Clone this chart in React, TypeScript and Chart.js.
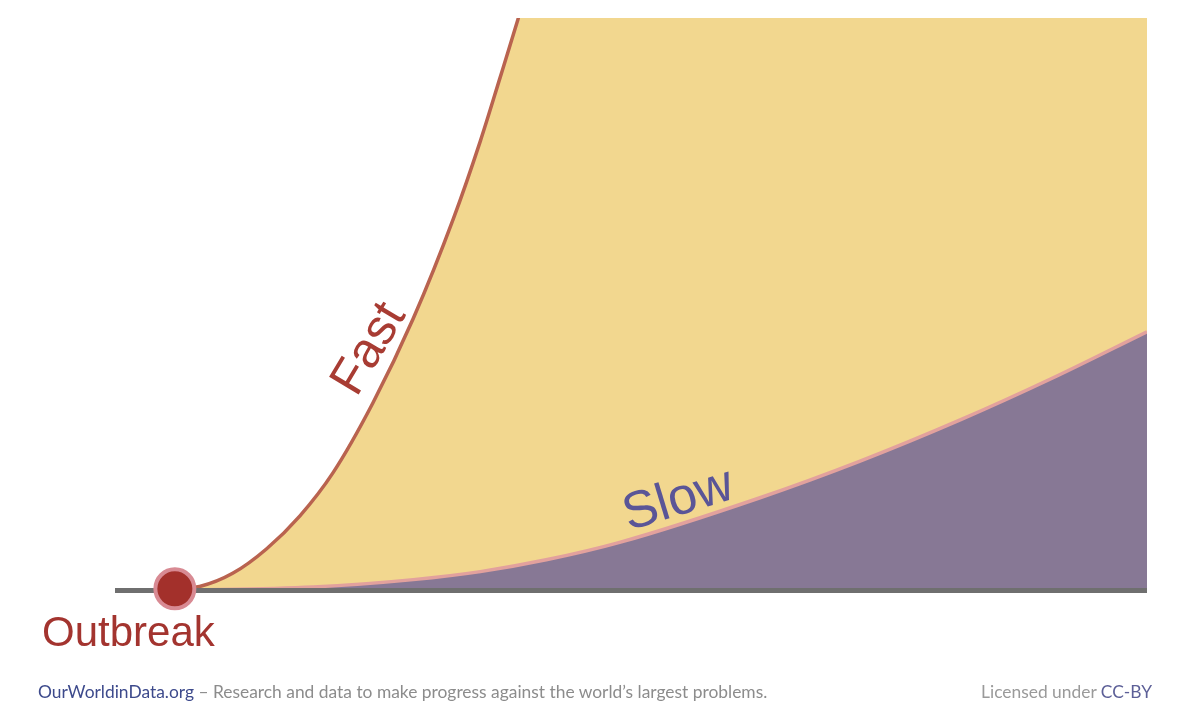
import React, { useEffect, useRef } from "react";
import { Chart, registerables } from "chart.js";

Chart.register(...registerables);

// Time since outbreak (arbitrary units) and number of cases (arbitrary units)
const fastT = [5.8, 8.2, 11.4, 14.7, 17.9, 21.1, 25.0, 28.9, 32.8, 35.4, 37.3, 39.05, 40.3, 100];
const fastV = [0.3, 0.7, 3.0, 7.3, 13.0, 20.5, 32.8, 47.5, 65.0, 78.5, 89.5, 99.8, 107.5, 107.5];
const slowT = [5.8, 19.2, 28.9, 35.4, 41.9, 48.9, 62.5, 72.2, 81.9, 90.6, 100];
const slowV = [0, 0.6, 1.9, 3.3, 5.4, 8.4, 16.2, 22.6, 29.8, 36.9, 45.2];
const baseT = [0, 100];
const baseV = [0, 0];
const outbreakT = [5.8];
const outbreakV = [0.3];

const labelFast = "Fast";
const labelSlow = "Slow";
const labelOutbreak = "Outbreak";

const zip = (xs: number[], ys: number[]) => xs.map((x, i) => ({ x, y: ys[i] }));

const textPlugin = {
  id: "curveLabels",
  afterDraw(chart: any) {
    const ctx = chart.ctx as CanvasRenderingContext2D;
    ctx.save();
    ctx.textAlign = "center";
    ctx.textBaseline = "alphabetic";
    // Fast
    ctx.save();
    ctx.translate(366, 347);
    ctx.rotate((-59 * Math.PI) / 180);
    ctx.font = "50px 'Liberation Sans', Arial, sans-serif";
    ctx.fillStyle = "#a83c33";
    ctx.fillText(labelFast, 0, 18);
    ctx.restore();
    // Slow
    ctx.save();
    ctx.translate(677, 496);
    ctx.rotate((-17 * Math.PI) / 180);
    ctx.font = "52px 'Liberation Sans', Arial, sans-serif";
    ctx.fillStyle = "#5a5597";
    ctx.fillText(labelSlow, 0, 19);
    ctx.restore();
    // Outbreak
    ctx.font = "42px 'Liberation Sans', Arial, sans-serif";
    ctx.fillStyle = "#a3342f";
    ctx.textAlign = "left";
    ctx.fillText(labelOutbreak, 42, 646);
    ctx.restore();
  },
};

export default function App() {
  const ref = useRef<HTMLCanvasElement>(null);

  useEffect(() => {
    document.body.style.margin = "0";
    if (!ref.current) return;
    const chart = new Chart(ref.current, {
      type: "line",
      data: {
        datasets: [
          {
            label: "Fast",
            data: zip(fastT, fastV),
            borderColor: "#b9634f",
            borderWidth: 3.5,
            backgroundColor: "#f2d78f",
            fill: { target: 1 },
            pointRadius: 0,
            cubicInterpolationMode: "monotone",
            clip: 0,
            order: 2,
          },
          {
            label: "Slow",
            data: zip(slowT, slowV),
            borderColor: "#e2a19d",
            borderWidth: 3.5,
            backgroundColor: "#877895",
            fill: "origin",
            pointRadius: 0,
            cubicInterpolationMode: "monotone",
            order: 3,
          },
          {
            label: "Baseline",
            data: zip(baseT, baseV),
            borderColor: "#6f6f6f",
            borderWidth: 5,
            pointRadius: 0,
            fill: false,
            order: 1,
          },
          {
            label: "Outbreak",
            data: zip(outbreakT, outbreakV),
            showLine: false,
            pointRadius: 19.5,
            pointBorderWidth: 4,
            pointBackgroundColor: "#a3302b",
            pointBorderColor: "#d88a93",
            clip: false,
            order: 0,
          } as any,
        ],
      },
      options: {
        animation: false,
        responsive: false,
        events: [],
        layout: { autoPadding: false, padding: { left: 115, right: 53, top: 18, bottom: 100.6 } },
        scales: {
          x: { type: "linear", min: 0, max: 100, display: false },
          y: { type: "linear", min: -4, max: 100, display: false },
        },
        plugins: {
          legend: { display: false },
          tooltip: { enabled: false },
          filler: { drawTime: "beforeDatasetsDraw" } as any,
        },
      },
      plugins: [textPlugin],
    });
    return () => chart.destroy();
  }, []);

  const footerFont = "Lato, 'Noto Sans', sans-serif";
  return (
    <div style={{ position: "fixed", left: 0, top: 0, width: 1200, height: 714, background: "#fff" }}>
      <canvas ref={ref} width={1200} height={714} style={{ position: "absolute", left: 0, top: 0 }} />
      <div
        style={{
          position: "absolute",
          left: 38,
          top: 682,
          fontFamily: footerFont,
          fontSize: 17.4,
          color: "#8c8c8c",
          whiteSpace: "nowrap",
          lineHeight: "20px",
        }}
      >
        <span style={{ color: "#3d4a8c" }}>OurWorldinData.org</span> – Research and data to make progress against
        the world’s largest problems.
      </div>
      <div
        style={{
          position: "absolute",
          right: 48,
          top: 682,
          fontFamily: footerFont,
          fontSize: 17.4,
          color: "#9a9a9a",
          whiteSpace: "nowrap",
          lineHeight: "20px",
        }}
      >
        Licensed under <span style={{ color: "#5c5f97" }}>CC-BY</span>
      </div>
    </div>
  );
}
